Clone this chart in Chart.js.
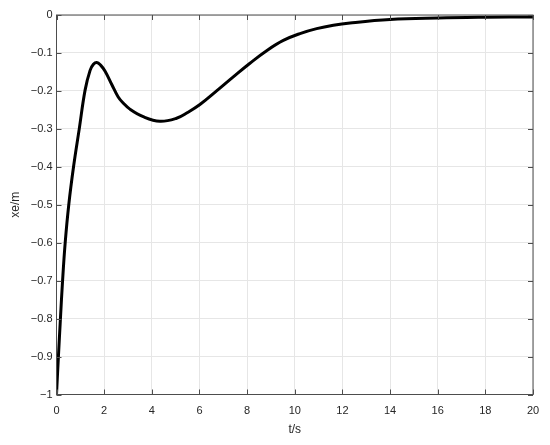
<!DOCTYPE html>
<html>
<head>
    <title>xe response</title>
    <script src="https://cdn.jsdelivr.net/npm/chart.js"></script>
    <style>
        body { margin: 0; background: #fff; }
    </style>
</head>
<body>
    <canvas id="chart" width="550" height="445"></canvas>

    <script>
        // time samples (s) and tracking error xe (m)
        const tValues = [0, 0.08, 0.165, 0.255, 0.365, 0.515, 0.715, 0.955, 1.2, 1.41, 1.55, 1.69, 1.85, 2.04, 2.32, 2.59, 2.8, 3.08, 3.64, 4.34, 5.04, 5.5, 6.02, 6.72, 7.42, 8.12, 8.82, 9.52, 10.22, 10.92, 11.62, 12.32, 14, 16, 18, 20];
        const xeValues = [-1, -0.90, -0.80, -0.70, -0.60, -0.50, -0.40, -0.30, -0.198, -0.146, -0.13, -0.125, -0.132, -0.148, -0.183, -0.216, -0.232, -0.248, -0.268, -0.280, -0.272, -0.257, -0.236, -0.200, -0.163, -0.127, -0.094, -0.067, -0.049, -0.036, -0.027, -0.021, -0.012, -0.008, -0.006, -0.005];
        const xTicks = [0, 2, 4, 6, 8, 10, 12, 14, 16, 18, 20];
        const yTicks = [-1, -0.9, -0.8, -0.7, -0.6, -0.5, -0.4, -0.3, -0.2, -0.1, 0];

        const axisColor = '#4d4d4d';
        const gridColor = '#e6e6e6';
        const tickFont = { family: 'Liberation Sans', size: 11 };

        // MATLAB style box with inward ticks
        const boxPlugin = {
            id: 'box',
            afterDraw(chart) {
                const { ctx, chartArea: a, scales } = chart;
                ctx.save();
                ctx.strokeStyle = axisColor;
                ctx.lineWidth = 1;
                ctx.strokeRect(a.left, a.top, a.right - a.left, a.bottom - a.top);
                ctx.beginPath();
                xTicks.forEach(v => {
                    const px = Math.round(scales.x.getPixelForValue(v)) + 0.5;
                    ctx.moveTo(px, a.bottom); ctx.lineTo(px, a.bottom - 5);
                    ctx.moveTo(px, a.top); ctx.lineTo(px, a.top + 5);
                });
                yTicks.forEach(v => {
                    const py = Math.round(scales.y.getPixelForValue(v)) + 0.5;
                    ctx.moveTo(a.left, py); ctx.lineTo(a.left + 5, py);
                    ctx.moveTo(a.right, py); ctx.lineTo(a.right - 5, py);
                });
                ctx.stroke();
                ctx.restore();
            }
        };

        const ctx = document.getElementById('chart').getContext('2d');
        const chart = new Chart(ctx, {
            type: 'line',
            data: {
                datasets: [{
                    data: tValues.map((t, i) => ({ x: t, y: xeValues[i] })),
                    borderColor: '#000',
                    borderWidth: 3,
                    pointRadius: 0,
                    tension: 0.4,
                    fill: false,
                }],
            },
            options: {
                responsive: false,
                animation: false,
                layout: { padding: { top: 15, right: 17, left: 0, bottom: 0 } },
                plugins: { legend: { display: false }, tooltip: { enabled: false } },
                scales: {
                    x: {
                        type: 'linear',
                        min: 0,
                        max: 20,
                        afterBuildTicks: s => { s.ticks = xTicks.map(v => ({ value: v })); },
                        afterFit: s => { s.height = 50.5; },
                        grid: { color: gridColor, drawTicks: false },
                        border: { display: false },
                        ticks: { color: '#262626', font: tickFont, padding: 10, maxRotation: 0 },
                        title: { display: true, text: 't/s', color: '#262626', font: { family: 'Liberation Sans', size: 12 }, padding: { top: 0, bottom: 8 } },
                    },
                    y: {
                        type: 'linear',
                        min: -1,
                        max: 0,
                        afterBuildTicks: s => { s.ticks = yTicks.map(v => ({ value: v })); },
                        afterFit: s => { s.width = 56.5; },
                        grid: { color: gridColor, drawTicks: false },
                        border: { display: false },
                        ticks: {
                            color: '#262626', font: tickFont, padding: 4,
                            callback: v => String(Math.round(v * 10) / 10).replace('-', '\u2212')
                        },
                        title: { display: true, text: 'xe/m', color: '#262626', font: { family: 'Liberation Sans', size: 12 }, padding: { top: 8, bottom: 0 } },
                    },
                },
            },
            plugins: [boxPlugin],
        });
    </script>
</body>
</html>
